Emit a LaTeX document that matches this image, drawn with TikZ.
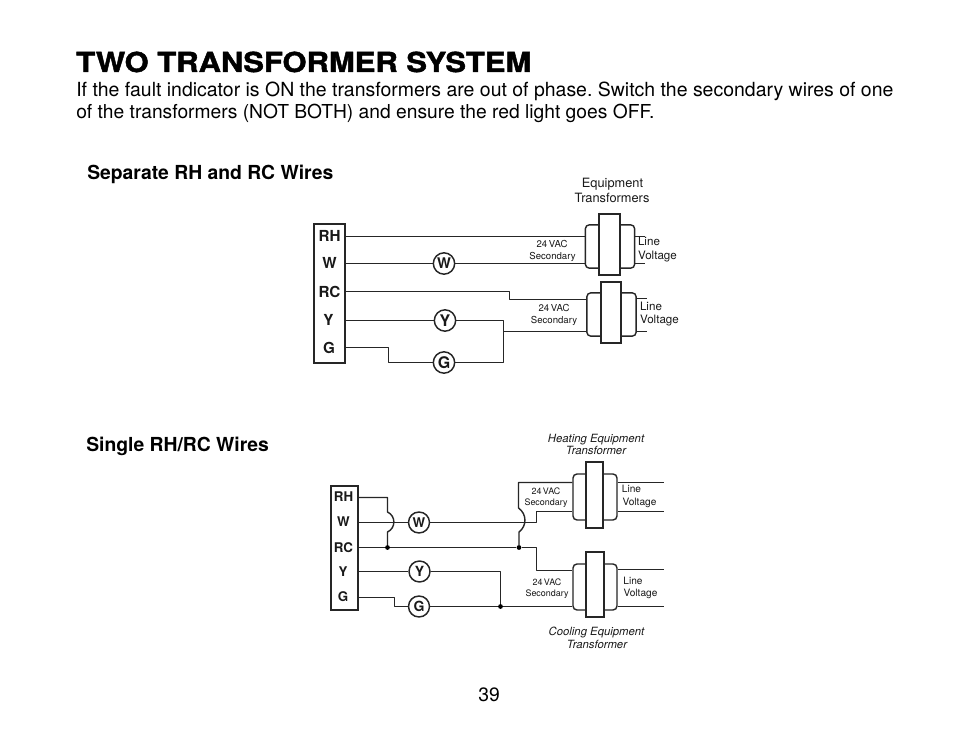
\documentclass[tikz,border=0pt]{standalone}
\usepackage{graphicx}
\usepackage{fontspec}
\setmainfont{TeX Gyre Heros}
\newfontfamily\titlefont[FakeBold=1.5]{TeX Gyre Heros Bold}
\begin{document}
\frenchspacing
\begin{tikzpicture}[x=0.75pt,y=-0.75pt,
  txt/.style={inner sep=0pt,anchor=base west},
  wire/.style={line width=1.05pt,black!85,line join=round},
  term/.style={draw=black!85,line width=1.05pt,fill=white,inner sep=0pt,rectangle},
  lug/.style={circle,draw=black!85,line width=1.1pt,fill=white,inner sep=0pt,minimum size=16pt,font=\bfseries\fontsize{12}{12}\selectfont,text=black!90},
  lugs/.style={lug,minimum size=15.75pt,font=\bfseries\fontsize{10.5}{12}\selectfont},
  coilw/.style={draw=black!85,line width=1.05pt,rounded corners=3pt,fill=white,rectangle,inner sep=0pt},
  coreb/.style={draw=black!85,line width=1.05pt,fill=white,rectangle,inner sep=0pt},
  tlab/.style={inner sep=0pt,anchor=base,font=\bfseries\fontsize{11.4}{12}\selectfont,text=black!90},
  tlabs/.style={tlab,font=\bfseries\fontsize{10}{12}\selectfont},
  small/.style={inner sep=0pt,anchor=base,font=\fontsize{8.7}{10}\selectfont,text=black!90},
  big/.style={small,font=\fontsize{9.6}{11}\selectfont},
  smaller/.style={inner sep=0pt,anchor=base,font=\fontsize{7.2}{9}\selectfont,text=black!90},
  tiny/.style={smaller,font=\fontsize{6.7}{8}\selectfont},
  lv/.style={smaller,font=\fontsize{7.6}{9}\selectfont},
  it/.style={inner sep=0pt,anchor=base,font=\itshape\fontsize{8.5}{10}\selectfont,text=black!90},
  dot/.style={circle,fill=black,inner sep=0pt,minimum size=3.6pt}]
\useasboundingbox (0,0) rectangle (954,734);
\fill[white] (0,0) rectangle (954,734);

% page text
\node[txt] (title) at (76,72) {\resizebox{341.25pt}{15.3pt}{\titlefont\fontsize{21}{26}\selectfont TWO TRANSFORMER SYSTEM}};
\node[txt] (para1) at (76,96.5) {\fontsize{14.6}{17}\selectfont If the fault indicator is ON the transformers are out of phase. Switch the secondary wires of one};
\node[txt] (para2) at (76,119) {\fontsize{14.43}{17}\selectfont of the transformers (NOT BOTH) and ensure the red light goes OFF.};
\node[txt] (head1) at (87,179.5) {\bfseries\fontsize{14.5}{16}\selectfont Separate RH and RC Wires};
\node[txt] (head2) at (86,451) {\bfseries\fontsize{14.5}{16}\selectfont Single RH/RC Wires};
\node[txt] (page) at (478,701) {\fontsize{14.5}{16}\selectfont 39};

% ---------- upper diagram ----------
\node[term,minimum width=23.25pt,minimum height=104.25pt] (B1) at (329.5,293.5) {};
\node[tlab] (rh1) at (329.5,241.5) {RH};
\node[tlab] (w1)  at (329.5,269) {W};
\node[tlab] (rc1) at (329.5,297.5) {RC};
\node[tlab] (y1)  at (328.5,325.5) {Y};
\node[tlab] (g1)  at (329,353.5) {G};

\node[coilw,minimum width=37pt,minimum height=32.5pt] (C1) at (610,246.5) {};
\node[coreb,minimum width=15.75pt,minimum height=45.75pt] (K1) at (609.5,244.5) {};
\node[coilw,minimum width=37pt,minimum height=32.5pt] (C2) at (611.5,314.5) {};
\node[coreb,minimum width=15pt,minimum height=45.75pt] (K2) at (611,312.5) {};

\node[lug] (LW1) at (444,263.5) {\fontsize{11}{12}\selectfont W};
\node[lug] (LY1) at (445,320.5) {Y};
\node[lug] (LG1) at (444,362.5) {G};

\draw[wire] (B1.east |- 0,236.5) -- (C1.west |- 0,236.5);
\draw[wire] (B1.east |- LW1) -- (LW1);
\draw[wire] (LW1) -- (C1.west |- LW1);
\draw[wire] (B1.east |- 0,291.5) -- (509.5,291.5) -- (509.5,299.5) -- (C2.west |- 0,299.5);
\draw[wire] (B1.east |- LY1) -- (LY1);
\draw[wire] (LY1) -- (503.5,320.5) -- (503.5,362.5) -- (LG1);
\draw[wire] (503.5,331.5) -- (C2.west |- 0,331.5);
\draw[wire] (B1.east |- 0,347.5) -- (388.5,347.5) -- (388.5,362.5) -- (LG1);
\draw[wire] (C1.east |- 0,236.5) -- (645,236.5);
\draw[wire] (C1.east |- 0,263.5) -- (645,263.5);
\draw[wire] (C2.east |- 0,298.5) -- (647,298.5);
\draw[wire] (C2.east |- 0,331.5) -- (647,331.5);

\node[big] (eq1) at (612.5,188) {Equipment};
\node[big] (eq2) at (612,203) {Transformers};
\node[smaller] (s1a) at (552,247.5) {24\,VAC};
\node[smaller] (s1b) at (552.5,259.5) {Secondary};
\node[smaller] (s2a) at (554,312) {24\,VAC};
\node[smaller] (s2b) at (554,324) {Secondary};
\node[small] (l1a) at (649,246) {Line};
\node[small] (l1b) at (657.5,259.5) {Voltage};
\node[small] (l2a) at (651,311) {Line};
\node[small] (l2b) at (659.5,324) {Voltage};

% ---------- lower diagram ----------
\node[term,minimum width=20.25pt,minimum height=93pt] (B2) at (344.5,548) {};
\node[tlabs] (rh2) at (343.5,501.5) {RH};
\node[tlabs] (w2)  at (343.5,526.5) {W};
\node[tlabs] (rc2) at (343.5,552.5) {RC};
\node[tlabs] (y2)  at (343,576.5) {Y};
\node[tlabs] (g2)  at (343,601.5) {G};

\node[coilw,minimum width=33pt,minimum height=34.5pt] (C3) at (595,497) {};
\node[coreb,minimum width=12.75pt,minimum height=49.5pt] (K3) at (594.5,495) {};
\node[coilw,minimum width=33pt,minimum height=34.5pt] (C4) at (595,587) {};
\node[coreb,minimum width=13.5pt,minimum height=48.75pt] (K4) at (595,584.5) {};

\node[lugs] (LW2) at (419,522.5) {\fontsize{10}{12}\selectfont W};
\node[lugs] (LY2) at (419.5,571.5) {Y};
\node[lugs] (LG2) at (419,606.5) {G};
\node[dot] (D1) at (387.5,547.5) {};
\node[dot] (D2) at (519,547.5) {};
\node[dot] (D3) at (500.5,606.5) {};

\draw[wire] (B2.east |- 0,497.5) -- (387.5,497.5) -- (387.5,512) .. controls (396,516) and (396,528) .. (387.5,532) -- (D1);
\draw[wire] (B2.east |- LW2) -- (LW2);
\draw[wire] (LW2) -- (536.5,522.5) -- (536.5,511.5) -- (C3.west |- 0,511.5);
\draw[wire] (B2.east |- D1) -- (D1) -- (D2) -- (536.5,547.5) -- (536.5,570.5) -- (C4.west |- 0,570.5);
\draw[wire] (C3.west |- 0,482.5) -- (518.5,482.5) -- (518.5,508) .. controls (527,514) and (527,526) .. (519,532) -- (D2);
\draw[wire] (B2.east |- LY2) -- (LY2);
\draw[wire] (LY2) -- (500.5,571.5) -- (D3);
\draw[wire] (B2.east |- 0,597.5) -- (394.5,597.5) -- (394.5,606.5) -- (LG2);
\draw[wire] (LG2) -- (D3) -- (C4.west |- D3);
\draw[wire] (C3.east |- 0,482.5) -- (664,482.5);
\draw[wire] (C3.east |- 0,511.5) -- (664,511.5);
\draw[wire] (C4.east |- 0,569.5) -- (664,569.5);
\draw[wire] (C4.east |- 0,606.5) -- (664,606.5);

\node[it] (h1) at (596,442) {Heating Equipment};
\node[it] (h2) at (596,455) {Transformer};
\node[it] (c1) at (596.5,635) {Cooling Equipment};
\node[it] (c2) at (597,648) {Transformer};
\node[tiny] (s3a) at (546,494) {24\,VAC};
\node[tiny] (s3b) at (546,505) {Secondary};
\node[tiny] (s4a) at (547,585) {24\,VAC};
\node[tiny] (s4b) at (547,596) {Secondary};
\node[lv] (l3a) at (631.5,493) {Line};
\node[lv] (l3b) at (639.5,505) {Voltage};
\node[lv] (l4a) at (633,584) {Line};
\node[lv] (l4b) at (640.5,596) {Voltage};
\end{tikzpicture}
\end{document}
